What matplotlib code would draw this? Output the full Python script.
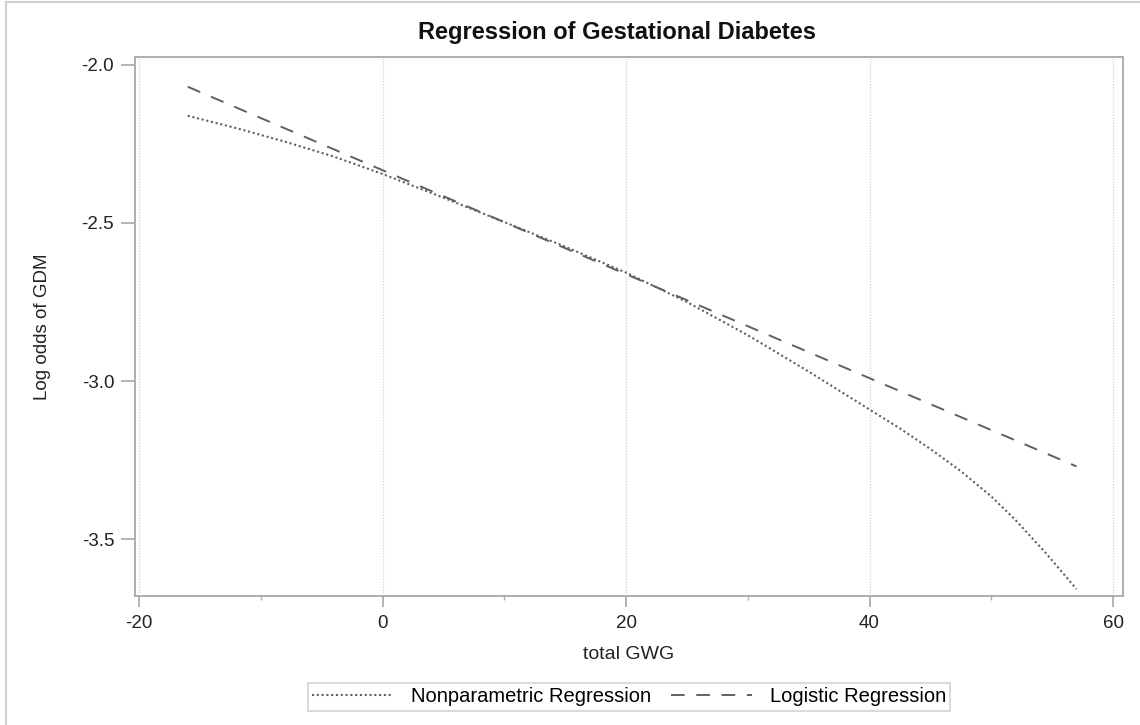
import numpy as np
import matplotlib
matplotlib.use("Agg")
import matplotlib.pyplot as plt
from matplotlib.patches import Rectangle

plt.rcParams['font.family'] = ['Liberation Sans', 'DejaVu Sans']

# values
gwg_np = [-16, -12, -8, -4, 0, 5, 10, 15, 20, 25, 30, 35, 40, 42.5, 45, 47.5, 50, 52, 54.5, 57]
logodds_np = [-2.161, -2.200, -2.243, -2.290, -2.345, -2.420, -2.497, -2.575, -2.657,
              -2.750, -2.855, -2.970, -3.090, -3.150, -3.215, -3.285, -3.365, -3.440,
              -3.545, -3.658]

gwg_lr = [-16, 0, 20, 40, 57]
logodds_lr = [-2.069, -2.333, -2.662, -2.991, -3.270]

xticks = [-20, 0, 20, 40, 60]
yticks = [-2.0, -2.5, -3.0, -3.5]

fig = plt.figure(figsize=(11.4, 7.25), dpi=100)
ax = fig.add_axes([135 / 1140, 1 - 596 / 725, 988 / 1140, 539 / 725])

line_col = '#606060'
ax.plot(gwg_np, logodds_np, color=line_col, lw=1.5, linestyle=(0, (1, 1.3)),
        label='Nonparametric Regression')
ax.plot(gwg_lr, logodds_lr, color=line_col, lw=1.4, linestyle=(0, (7, 6)),
        label='Logistic Regression')

ax.set_xlim(-20.33, 60.82)
ax.set_ylim(-3.680, -1.975)
ax.set_xticks(xticks)
ax.set_xticklabels([str(t) for t in xticks])
ax.set_xticks([-10, 10, 30, 50], minor=True)
ax.set_yticks(yticks)
ax.set_yticklabels(['%.1f' % t for t in yticks])
ax.grid(axis='x', which='major', color='#d8d8d8', linestyle=(0, (1, 1)), lw=1)

for s in ax.spines.values():
    s.set_color('#a8a8a8')
    s.set_linewidth(1.3)
ax.tick_params(axis='both', which='major', colors='#a8a8a8', labelcolor='#222222',
               labelsize=13.5, length=8, width=1.2)
ax.tick_params(axis='y', length=10, pad=5)
ax.tick_params(axis='x', pad=6)
ax.tick_params(axis='x', which='minor', colors='#b0b0b0', length=3, width=1)

ax.set_xlabel('total GWG', fontsize=14, color='#222222', labelpad=10)
ax.set_ylabel('Log odds of GDM', fontsize=13.5, color='#222222', labelpad=22)
fig.text(617 / 1140, 1 - 33 / 725, 'Regression of Gestational Diabetes', ha='center',
         va='center', fontsize=17, fontweight='bold', color='#111111')

leg = fig.legend(loc='center', bbox_to_anchor=(629 / 1140, 1 - 697 / 725), ncol=2,
                 fontsize=14.5, frameon=True, fancybox=False, handlelength=4.0,
                 columnspacing=1.0, borderpad=0.2, handletextpad=0.9)
leg.get_frame().set_edgecolor('#c8c8c8')
leg.get_frame().set_linewidth(1.2)

# outer border (only top and left visible in the original)
fig.patches.append(Rectangle((6 / 1140, -0.5), 2.0, 1.5 - 2 / 725, transform=fig.transFigure,
                             fill=False, edgecolor='#d0d0d0', lw=1.5))

fig.savefig('out.png', dpi=100)
